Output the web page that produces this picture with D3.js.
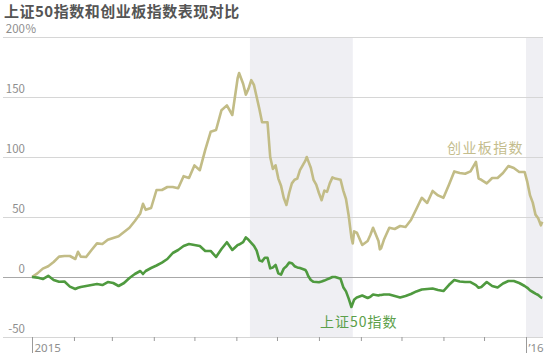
<!DOCTYPE html>
<html><head><meta charset="utf-8">
<script src="https://cdn.jsdelivr.net/npm/d3@7"></script>
<style>
html,body{margin:0;padding:0;background:#fff;}
svg{display:block;font-family:"Noto Sans CJK SC","Noto Sans",sans-serif;}
</style></head>
<body><svg id="c" width="547" height="356"></svg>
<script>
const title = "上证50指数和创业板指数表现对比";
const dates = [
"2015-01-01","2015-01-05","2015-01-09","2015-01-13","2015-01-17","2015-01-21","2015-01-25","2015-01-29",
"2015-02-02","2015-02-04","2015-02-06","2015-02-10","2015-02-14","2015-02-18","2015-02-22","2015-02-26",
"2015-03-02","2015-03-06","2015-03-10","2015-03-14","2015-03-18","2015-03-22","2015-03-24","2015-03-26","2015-03-30",
"2015-04-03","2015-04-07","2015-04-11","2015-04-15","2015-04-19","2015-04-23","2015-04-27",
"2015-05-01","2015-05-05","2015-05-09","2015-05-13","2015-05-17","2015-05-21","2015-05-25","2015-05-29",
"2015-06-02","2015-06-03","2015-06-06","2015-06-08","2015-06-10","2015-06-12","2015-06-14","2015-06-16","2015-06-18","2015-06-20","2015-06-22","2015-06-24","2015-06-26","2015-06-28","2015-06-30",
"2015-07-02","2015-07-04","2015-07-06","2015-07-08","2015-07-10","2015-07-12","2015-07-14","2015-07-16","2015-07-18","2015-07-20","2015-07-22","2015-07-23","2015-07-24","2015-07-26","2015-07-28","2015-07-30",
"2015-08-01","2015-08-03","2015-08-05","2015-08-07","2015-08-09","2015-08-11","2015-08-13","2015-08-17","2015-08-19","2015-08-21","2015-08-23","2015-08-25","2015-08-26","2015-08-27","2015-08-29",
"2015-09-02","2015-09-06","2015-09-08","2015-09-10","2015-09-14","2015-09-15","2015-09-16","2015-09-18","2015-09-22","2015-09-26","2015-09-30",
"2015-10-04","2015-10-08","2015-10-12","2015-10-16","2015-10-20","2015-10-24","2015-10-28",
"2015-11-01","2015-11-05","2015-11-09","2015-11-13","2015-11-17","2015-11-21","2015-11-25","2015-11-27","2015-11-29",
"2015-12-03","2015-12-07","2015-12-11","2015-12-15","2015-12-19","2015-12-23","2015-12-27","2015-12-31",
"2016-01-02","2016-01-04","2016-01-06","2016-01-08","2016-01-10","2016-01-12","2016-01-13"];
const chinext = [
0,3,7,9,12.5,17,17.5,17.5,
15,21,17,16.7,22.5,28,27.5,31,
32.5,34,37.5,41,46.7,53,61,56,57.5,
72.5,72.5,75,75,74,84,82.5,
93,89,106,121,122.5,139,143,135,
166,170,161,152,157,164,160,150,140,129,129,129,100,90,93,
82,76,66,60,70,78,81,82,89,93,97,100,97,91,81,77,
70,64,72,71,78,83,82,81,72,65,51,33,28,38,37,
26.7,30,35,41,30,23,24,31,41,40,42.5,
41.7,47.5,56.7,66,61.7,71.7,68,
66,76.7,88,86.7,86,88,96,82,81,
78,82.5,82.5,86.7,92.5,90.8,87.5,87.5,
79,68,62,52,49,43,46];
const sz50 = [
0,-0.5,-1.7,1,-2.5,-4,-3.8,-8,
-10,-9,-8.3,-7.5,-6.7,-5.8,-6.7,-4.2,
-5,-7.5,-5,-0.8,2.5,5,2.5,5,7.5,
9.6,12,15,20,22.5,25.8,27.5,
26.7,25.8,21.7,21.7,16.7,23.3,29,22.5,
26.7,27,29,33,31,28.5,26,22,14,13,16,16,7.2,8,10,
3,2,7,9,12,11.5,9,8,7.5,6.7,5.8,4,1,-2.5,-4,-4.2,
-4.4,-3.8,-3,-2,-1,0,0,-1.5,-8.5,-12,-18,-25,-22,-19,-17,
-15.4,-17.5,-16.5,-14.6,-15.4,-15,-15,-14.6,-14.6,-15.8,-17,
-15.8,-14.2,-12,-10.4,-10,-9.6,-10.8,
-11.7,-6.7,-2.5,-3.8,-4.2,-4.2,-6.7,-9,-8.3,
-4.2,-7.5,-8.8,-5.4,-3.3,-3.3,-5,-7.5,
-9,-11.2,-12.5,-13.8,-15,-17,-17.5];
const yTicks = [-50,0,50,100,150,200];
const shadeRanges = [["2015-06-11","2015-08-26"],["2016-01-01","2016-01-14"]];
const seriesNames = ["创业板指数","上证50指数"];

const parse = d3.timeParse("%Y-%m-%d");
const svg = d3.select("#c");
const x = d3.scaleTime().domain([parse("2015-01-01"), parse("2016-01-01")]).range([32, 526]);
const y = d3.scaleLinear().domain([-50, 200]).range([337, 37]);
const plotRight = 543;

// shading
svg.append("g").selectAll("rect").data(shadeRanges).join("rect")
  .attr("x", d => x(parse(d[0])))
  .attr("width", d => Math.min(plotRight, x(parse(d[1]))) - x(parse(d[0])))
  .attr("y", y(200)).attr("height", y(-50) - y(200))
  .attr("fill", "#efeff3");

// grid
svg.append("g").selectAll("line").data(yTicks).join("line")
  .attr("x1", 3).attr("x2", plotRight)
  .attr("y1", d => y(d) + 0.5).attr("y2", d => y(d) + 0.5)
  .attr("stroke", d => d === 0 ? "#a8a8a8" : "#d6d6d6").attr("stroke-width", 1);

// y labels (numbers right-aligned, % hanging)
const yl = svg.append("g").attr("font-size", 11.5).attr("fill", "#8e8e8e");
yl.selectAll("text.num").data(yTicks).join("text").attr("class", "num")
  .attr("x", 25).attr("y", d => y(d) - 4).attr("text-anchor", "end")
  .text(d => d);
yl.append("text").attr("x", 25.5).attr("y", y(200) - 4).text("%");

// x axis
const xAxis = d3.axisBottom(x).ticks(d3.timeMonth.every(1)).tickSize(4).tickFormat("");
const gx = svg.append("g").attr("transform", `translate(0,${y(-50)})`).call(xAxis);
gx.select(".domain").remove();
gx.selectAll(".tick line").attr("stroke", "#9a9a9a")
  .attr("y2", d => d.getMonth() === 0 ? 16 : 4);
gx.selectAll(".tick").filter(d => d.getMonth() === 0).append("text")
  .attr("x", 2).attr("y", 15).attr("text-anchor", "start")
  .attr("font-size", 11.5).attr("fill", "#8e8e8e")
  .attr("font-family", "'Noto Sans',sans-serif")
  .text(d => d.getFullYear() === 2015 ? "2015" : "\u201916");

// lines
const data = dates.map((d, i) => ({date: parse(d), a: chinext[i], b: sz50[i]}));
const lineA = d3.line().x(d => x(d.date)).y(d => y(d.a));
const lineB = d3.line().x(d => x(d.date)).y(d => y(d.b));
svg.append("path").datum(data).attr("d", lineA).attr("fill", "none")
  .attr("stroke", "#c2bc86").attr("stroke-width", 2.6).attr("stroke-linejoin", "round");
svg.append("path").datum(data).attr("d", lineB).attr("fill", "none")
  .attr("stroke", "#4f9a3f").attr("stroke-width", 2.6).attr("stroke-linejoin", "round");

// title
svg.append("text").attr("x", 4).attr("y", 17).attr("font-size", 15).attr("font-weight", "bold")
  .attr("letter-spacing", 0.5).attr("fill", "#555").text(title);

// series labels
svg.append("text").attr("x", 447).attr("y", 153).attr("font-size", 14).attr("letter-spacing", 1.4)
  .attr("fill", "#c4bd8d").text(seriesNames[0]);
svg.append("text").attr("x", 320).attr("y", 327).attr("font-size", 14).attr("letter-spacing", 1)
  .attr("fill", "#5c9f4a").text(seriesNames[1]);
</script></body></html>
